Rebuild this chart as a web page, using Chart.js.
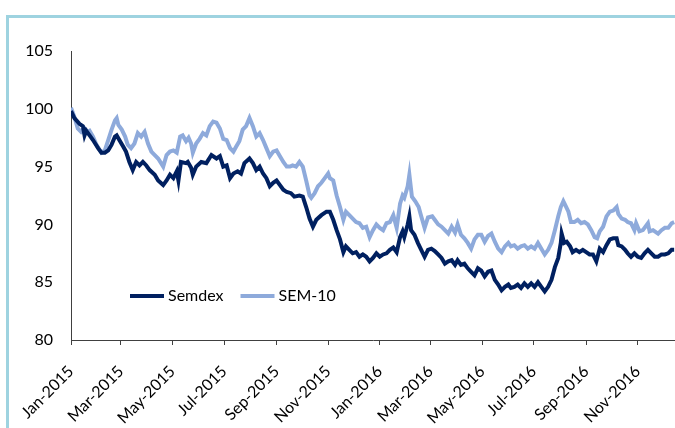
<!DOCTYPE html>
<html>
<head>
<meta charset="utf-8">
<script src="https://cdn.jsdelivr.net/npm/chart.js@4.4.1/dist/chart.umd.min.js"></script>
<style>
  html, body { margin: 0; padding: 0; background: #ffffff; }
  #wrap { position: relative; width: 675px; height: 428px; overflow: hidden; }
  #frame { position: absolute; left: 6px; top: 15px; width: 675px; height: 420px;
           border-top: 3px solid #9ed3e0; border-left: 3px solid #9ed3e0; }
  #c { position: absolute; left: 0; top: 0; }
</style>
</head>
<body>
<div id="wrap">
  <div id="frame"></div>
  <canvas id="c" width="675" height="428"></canvas>
</div>
<script>
// Days counted from 1 Jan 2015
const tickDays   = [0, 59, 120, 181, 243, 304, 365, 425, 486, 547, 609, 670];
const tickLabels = ['Jan-2015','Mar-2015','May-2015','Jul-2015','Sep-2015','Nov-2015',
                    'Jan-2016','Mar-2016','May-2016','Jul-2016','Sep-2016','Nov-2016'];
const yTicks = [80, 85, 90, 95, 100, 105];

const seriesNames = ['Semdex', 'SEM-10'];

const semdexDays = [0,4,10,14,16,18,22,26,32,36,40,44,48,52,54,58,62,65,69,73,77,81,85,89,93,99,103,109,113,117,121,125,127,130,136,138,142,144,148,154,160,166,172,176,180,184,188,192,197,201,205,211,215,219,223,227,231,235,239,243,247,251,255,260,264,270,274,278,282,286,290,296,302,306,310,314,318,322,325,329,333,337,341,345,349,353,357,361,365,369,373,377,381,385,389,392,394,398,400,402,406,410,414,418,422,426,430,434,438,442,446,450,454,457,461,465,469,473,477,481,485,489,493,497,501,505,509,513,517,520,524,528,532,536,540,544,548,552,556,560,564,568,572,576,579,580,583,586,590,593,597,601,605,609,613,617,621,625,629,633,637,641,645,647,651,655,658,662,666,670,674,678,682,686,690,694,698,702,706,710,713];
const semdexValues = [99.8,99.2,98.7,98.5,97.7,98.1,97.7,97.3,96.6,96.2,96.2,96.4,96.9,97.6,97.7,97.2,96.7,96.3,95.4,94.7,95.4,95.1,95.4,95.1,94.7,94.3,93.8,93.4,93.8,94.3,94.0,94.6,93.8,95.4,95.3,95.4,94.9,94.3,95.0,95.4,95.3,96.0,95.7,95.9,95.0,95.1,94.0,94.4,94.6,94.4,95.3,95.7,95.3,94.7,95.0,94.4,94.0,93.3,93.6,93.8,93.4,93.0,92.8,92.7,92.4,92.5,92.4,91.5,90.5,89.8,90.4,90.8,91.1,91.1,90.4,89.5,88.7,87.6,88.1,87.8,87.5,87.6,87.2,87.4,87.2,86.8,87.1,87.5,87.2,87.4,87.5,87.8,88.0,87.6,88.9,89.4,88.9,90.0,90.7,89.5,89.1,88.4,87.8,87.2,87.8,87.9,87.7,87.4,87.1,86.6,86.8,86.9,86.5,86.9,86.5,86.6,86.2,85.9,85.6,86.2,86.0,85.5,85.9,86.0,85.2,84.8,84.3,84.6,84.8,84.5,84.6,84.8,84.5,84.9,84.6,84.9,84.6,85.0,84.6,84.2,84.6,85.2,86.3,87.1,88.4,89.2,88.4,88.5,88.1,87.6,87.8,87.6,87.8,87.6,87.4,87.4,86.8,87.9,87.6,88.2,88.7,88.8,88.8,88.2,88.1,87.8,87.5,87.2,87.5,87.2,87.1,87.5,87.8,87.5,87.2,87.2,87.4,87.4,87.5,87.8,87.8];

const sem10Days = [0,4,8,12,16,20,22,26,30,36,40,44,48,52,54,56,60,64,67,71,75,79,83,87,91,95,99,103,109,113,117,121,125,129,132,136,139,142,144,148,152,156,160,164,168,172,176,180,184,188,192,195,199,203,207,211,215,219,223,227,231,235,239,243,247,251,255,259,262,266,270,274,278,282,284,288,292,296,300,304,306,310,314,318,322,325,329,333,337,341,345,349,353,357,361,365,369,373,377,381,385,389,392,394,398,400,403,407,411,414,418,422,427,430,434,438,442,446,450,454,457,461,465,469,473,477,481,485,489,493,497,501,505,509,513,517,520,524,528,532,536,540,544,548,552,556,560,564,568,572,576,579,582,584,588,591,595,599,603,607,611,615,619,622,625,629,633,637,641,645,647,651,655,658,662,666,668,672,676,682,684,688,694,698,702,706,710,713];
const sem10Values = [100.1,99.3,98.3,98.0,98.3,98.0,98.1,97.6,96.9,96.2,96.4,97.3,98.2,99.0,99.2,98.6,98.2,97.6,96.9,96.6,97.0,97.9,97.6,98.0,97.0,96.3,96.0,95.7,95.0,96.0,96.3,96.4,96.2,97.6,97.7,97.2,97.5,97.0,96.2,97.0,97.4,97.9,97.7,98.5,98.9,98.8,98.3,97.4,97.3,96.6,96.3,96.7,97.2,98.2,98.5,99.2,98.5,97.6,97.9,97.3,96.6,95.9,96.3,96.4,95.9,95.4,95.0,95.0,95.1,95.0,95.4,95.0,93.8,92.5,92.3,92.7,93.3,93.6,94.0,94.4,94.0,93.8,92.5,91.5,90.4,91.1,90.8,90.5,90.2,90.1,89.7,89.8,88.9,89.5,90.0,89.7,89.5,90.1,90.2,90.8,89.7,91.8,92.5,92.3,93.3,94.3,92.4,92.0,91.5,90.7,89.7,90.6,90.7,90.4,90.0,89.8,89.5,89.2,89.8,89.3,90.0,89.1,88.8,88.4,87.9,88.7,89.1,89.1,88.5,89.0,89.2,88.5,87.9,87.6,88.1,88.4,88.1,88.2,87.9,88.1,88.2,87.9,88.1,87.9,88.4,87.9,87.4,87.8,88.4,89.5,90.7,91.5,92.0,91.7,91.1,90.2,90.2,90.4,90.1,90.2,90.0,89.5,88.9,88.8,89.4,89.8,90.7,91.1,91.2,91.5,90.9,90.5,90.4,90.2,90.1,89.5,90.1,89.4,89.5,90.1,89.4,89.5,89.2,89.5,89.7,89.7,90.1,90.2];

const toPoints = (days, vals) => days.map((d, i) => ({ x: d, y: vals[i] }));

const AXIS = '#404040';

const legendInside = {
  id: 'legendInside',
  afterDatasetsDraw(chart) {
    const { ctx, chartArea } = chart;
    const items = chart.data.datasets;
    let x = chartArea.left + 59;
    const y = chartArea.top + 245;
    ctx.save();
    ctx.font = '16px Lato';
    ctx.textBaseline = 'middle';
    ctx.textAlign = 'left';
    items.forEach(ds => {
      ctx.strokeStyle = ds.borderColor;
      ctx.lineWidth = ds.borderWidth;
      ctx.beginPath();
      ctx.moveTo(x, y);
      ctx.lineTo(x + 34, y);
      ctx.stroke();
      ctx.fillStyle = '#000000';
      ctx.fillText(ds.label, x + 38, y);
      x += 38 + ctx.measureText(ds.label).width + 17;
    });
    ctx.restore();
  }
};

function draw() {
  Chart.defaults.font.family = 'Lato';
  Chart.defaults.font.size = 16;
  Chart.defaults.color = '#000000';
  new Chart(document.getElementById('c'), {
    type: 'line',
    data: {
      datasets: [
        { label: seriesNames[0], data: toPoints(semdexDays, semdexValues),
          borderColor: '#002060', borderWidth: 4, pointRadius: 0, tension: 0, fill: false },
        { label: seriesNames[1], data: toPoints(sem10Days, sem10Values),
          borderColor: '#8eaadb', borderWidth: 4, pointRadius: 0, tension: 0, fill: false }
      ]
    },
    options: {
      responsive: false,
      animation: false,
      layout: { padding: { top: 51, left: 0, right: 0, bottom: 0 } },
      plugins: { legend: { display: false }, tooltip: { enabled: false } },
      scales: {
        x: {
          type: 'linear', min: 0, max: 714,
          afterFit: s => { s.height = 88; },
          afterBuildTicks: s => { s.ticks = tickDays.map(v => ({ value: v })); },
          ticks: {
            autoSkip: false, minRotation: 45, maxRotation: 45, padding: 17,
            callback: (v, i) => tickLabels[i]
          },
          grid: { display: true, drawOnChartArea: false, drawTicks: true, tickLength: 5, color: AXIS },
          border: { display: true, color: AXIS, width: 1 }
        },
        y: {
          min: 80, max: 105,
          afterFit: s => { s.width = 71; },
          afterBuildTicks: s => { s.ticks = yTicks.map(v => ({ value: v })); },
          ticks: { padding: 18 },
          grid: { display: false, drawTicks: false },
          border: { display: true, color: AXIS, width: 1 }
        }
      }
    },
    plugins: [legendInside]
  });
}

if (document.fonts && document.fonts.load) {
  document.fonts.load('16px Lato').then(draw, draw);
} else { draw(); }
</script>
</body>
</html>
